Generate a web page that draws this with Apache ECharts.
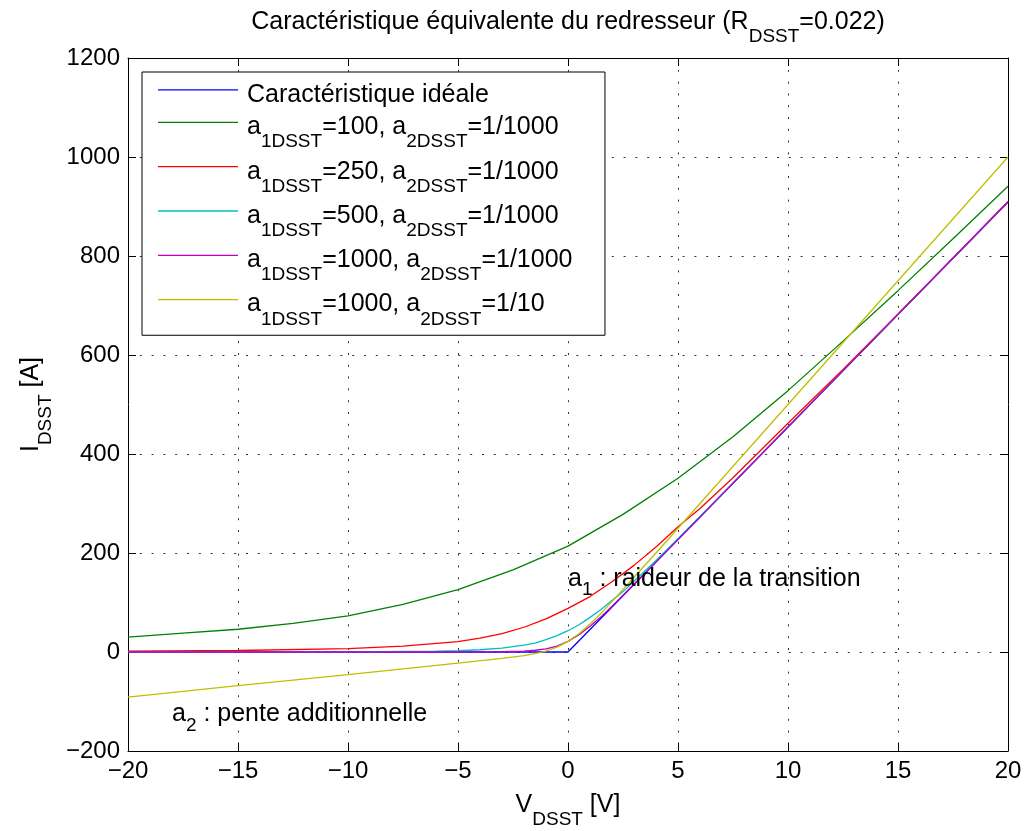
<!DOCTYPE html>
<html><head><meta charset="utf-8">
<script src="https://cdn.jsdelivr.net/npm/echarts@6/dist/echarts.min.js"></script>
<style>html,body{margin:0;padding:0;background:#fff}#c{width:1026px;height:831px}</style>
</head><body><div id="c"></div>
<script>
// ---- data ----
const seriesNames = [
  'Caractéristique idéale',
  'a1DSST=100, a2DSST=1/1000',
  'a1DSST=250, a2DSST=1/1000',
  'a1DSST=500, a2DSST=1/1000',
  'a1DSST=1000, a2DSST=1/1000',
  'a1DSST=1000, a2DSST=1/10'
];
const seriesColors = ['#0000ff', '#008000', '#ff0000', '#00bfbf', '#bf00bf', '#bfbf00'];

const vIdeal = [-20, 0, 20];
const iIdeal = [0, 0, 909];

const vA100 = [-20, -17.5, -15, -12.5, -10, -7.5, -5, -2.5, 0, 2.5, 5, 7.5, 10, 12.5, 15, 17.5, 20];
const iA100 = [30, 38, 46, 58, 73, 96, 126, 166, 214, 278, 351, 435, 528, 628, 730, 835, 941];

const vA250 = [-20, -15, -10, -7.5, -5, -4, -3, -2, -1, 0, 1, 2, 3, 4, 5, 6, 7.5, 10, 12.5, 15, 17.5, 20];
const iA250 = [1.5, 3, 7, 12, 21, 28, 37, 50, 67, 88, 112, 142, 175, 212, 253, 290, 352, 462, 571, 683, 796, 910];

const vA500 = [-20, -10, -6, -5, -4, -3, -2, -1.5, -1, -0.5, 0, 0.5, 1, 1.5, 2, 2.5, 3, 4, 5, 6, 8, 10, 15, 20];
const iA500 = [0, 0.3, 1.5, 2.5, 4.5, 8, 14, 18, 25, 33, 43, 55, 70, 86, 104, 122, 143, 185, 229, 274, 364, 455, 682, 909];

const vA1000 = [-20, -5, -3, -2, -1.5, -1, -0.5, 0, 0.5, 1, 1.5, 2, 3, 4, 5, 10, 15, 20];
const iA1000 = [0, 0, 0.5, 1.6, 3.5, 6.5, 12, 21.5, 35, 52, 71, 92.6, 137, 182, 227, 454.5, 682, 909];

const vA1000b = [-20, -15, -10, -5, -3, -2, -1.5, -1, -0.5, 0, 0.5, 1, 1.5, 2, 3, 4, 5, 10, 15, 20];
const iA1000b = [-91, -68, -45.5, -22.5, -13, -7.5, -3.3, 2, 9.7, 21.5, 37, 56.5, 78, 101.7, 151, 200, 250, 500, 750, 1000];

const xRange = [-20, 20], xStep = 5;
const yRange = [-200, 1200], yStep = 200;

// [main, subscript, main] text pieces
const titleParts = ['Caractéristique équivalente du redresseur (R', 'DSST', '=0.022)'];
const xNameParts = ['V', 'DSST', ' [V]'];
const yNameParts = ['I', 'DSST', ' [A]'];
const note1 = ['a', '1', ' : raideur de la transition'];
const note1Pos = [0, 150];
const note2 = ['a', '2', ' : pente additionnelle'];
const note2Pos = [-18, -124];

// ---- chart ----
const FONT = 'Liberation Sans';
const FS = 25, FSS = 19;
const pairs = (v, i) => v.map((x, k) => [x, i[k]]);
const allV = [vIdeal, vA100, vA250, vA500, vA1000, vA1000b];
const allI = [iIdeal, iA100, iA250, iA500, iA1000, iA1000b];

const richMain = { fontSize: FS, lineHeight: FS, padding: [5, 0, 0, 0], verticalAlign: 'top', fontFamily: FONT, color: '#000' };
const richSub = { fontSize: FSS, lineHeight: FSS, padding: [22.7, 0, 0, 0], verticalAlign: 'top', fontFamily: FONT, color: '#000' };
const richFirst = Object.assign({}, richMain, { padding: [5, 0, 0, 4] });
const rich3 = (p, m, s) => '{' + m + '|' + p[0] + '}{' + s + '|' + p[1] + '}{' + m + '|' + p[2] + '}';

function richify(str) {
  let out = '';
  str.split(/(a[12]DSST)/).forEach(p => {
    if (!p) return;
    const m = p.match(/^a([12]DSST)$/);
    if (m) out += '{m|a}{s|' + m[1] + '}';
    else out += '{m|' + p + '}';
  });
  return out.replace('{m|', '{f|');
}
const minus = v => (v < 0 ? '\u2212' + Math.abs(v) : String(v));
const dotted = { type: [2, 9.8], color: '#333', width: 1 };

const chart = echarts.init(document.getElementById('c'), null, { renderer: 'canvas' });

const baseX = { type: 'value', min: xRange[0], max: xRange[1], interval: xStep };
const baseY = { type: 'value', min: yRange[0], max: yRange[1], interval: yStep };
const axisLine = { show: true, onZero: false, lineStyle: { color: '#000', width: 1 } };
const axisTick = { show: true, inside: true, length: 8, lineStyle: { color: '#000', width: 1 } };

chart.setOption({
  animation: false,
  backgroundColor: '#fff',
  title: {
    text: rich3(titleParts, 'tm', 'ts'),
    left: 568, top: 9.6, padding: 0, textAlign: 'center',
    textStyle: {
      rich: {
        tm: { fontSize: FS, lineHeight: FS, verticalAlign: 'top', fontFamily: FONT, color: '#000', fontWeight: 'normal' },
        ts: { fontSize: FSS, lineHeight: FSS, padding: [17.7, 0, 0, 0], verticalAlign: 'top', fontFamily: FONT, color: '#000', fontWeight: 'normal' }
      }
    }
  },
  grid: { left: 128, right: 18, top: 58, bottom: 80, containLabel: false, outerBoundsMode: 'none' },
  xAxis: [
    Object.assign({}, baseX, {
      position: 'bottom', axisLine, axisTick,
      axisLabel: { color: '#000', fontSize: 24, fontFamily: FONT, margin: 8, formatter: minus },
      splitLine: { show: true, lineStyle: dotted },
      name: rich3(xNameParts, 'm', 's'), nameLocation: 'middle', nameGap: 30.6,
      nameTextStyle: { rich: { m: richMain, s: richSub } }
    }),
    Object.assign({}, baseX, {
      position: 'top', axisLine, axisTick,
      axisLabel: { show: false }, splitLine: { show: false }
    })
  ],
  yAxis: [
    Object.assign({}, baseY, {
      position: 'left', axisLine, axisTick,
      axisLabel: { color: '#000', fontSize: 24, fontFamily: FONT, margin: 8, formatter: minus },
      splitLine: { show: true, lineStyle: dotted },
      name: rich3(yNameParts, 'm', 's'), nameLocation: 'middle', nameRotate: 90, nameGap: 80.5,
      nameTextStyle: { rich: { m: richMain, s: richSub } }
    }),
    Object.assign({}, baseY, {
      position: 'right', axisLine, axisTick,
      axisLabel: { show: false }, splitLine: { show: false }
    })
  ],
  legend: {
    orient: 'vertical', left: 142, top: 72,
    padding: [5.3, 32.5, 6.45, 16], itemGap: 2.6, itemWidth: 80, itemHeight: 1.3,
    icon: 'rect',
    backgroundColor: '#fff', borderColor: '#000', borderWidth: 1, borderRadius: 0,
    selectedMode: false, data: seriesNames,
    formatter: richify,
    textStyle: { color: '#000', fontFamily: FONT, fontSize: FS, rich: { f: richFirst, m: richMain, s: richSub } }
  },
  series: seriesNames.map((name, k) => ({
    name, type: 'line', xAxisIndex: 0, yAxisIndex: 0,
    data: pairs(allV[k], allI[k]),
    symbol: 'none', showSymbol: false, smooth: false,
    lineStyle: { color: seriesColors[k], width: 1.3 },
    itemStyle: { color: seriesColors[k] },
    emphasis: { disabled: true }, silent: true
  }))
});

function noteGraphic(parts, pos) {
  const p = chart.convertToPixel({ gridIndex: 0 }, pos);
  return {
    type: 'text', x: p[0], y: p[1] - 11.3, silent: true, z: 10,
    style: {
      text: rich3(parts, 'am', 'as'),
      align: 'left', verticalAlign: 'top', fill: '#000', fontFamily: FONT, fontSize: FS,
      rich: {
        am: { fontSize: FS, lineHeight: FS, verticalAlign: 'top', fontFamily: FONT, fill: '#000' },
        as: { fontSize: FSS, lineHeight: FSS, padding: [14.2, 0, 0, 0], verticalAlign: 'top', fontFamily: FONT, fill: '#000' }
      }
    }
  };
}
chart.setOption({ graphic: [noteGraphic(note1, note1Pos), noteGraphic(note2, note2Pos)] });
</script>
</body></html>
